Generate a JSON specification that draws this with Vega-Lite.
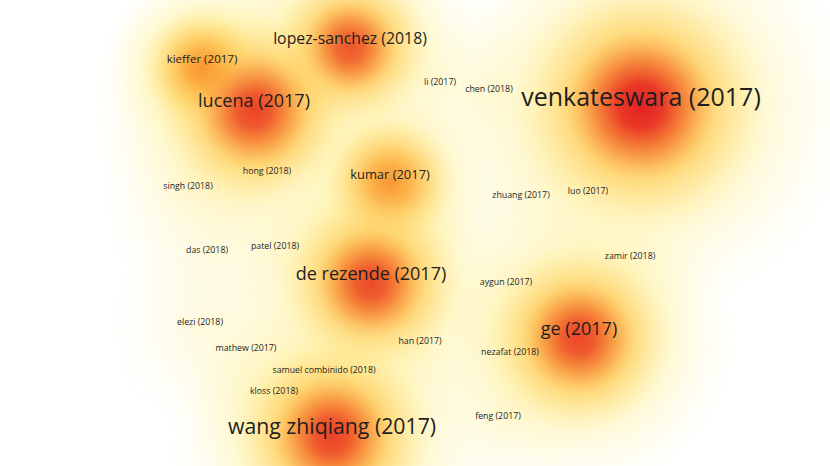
{
  "$schema": "https://vega.github.io/schema/vega-lite/v6.json",
  "autosize": {"type": "none"},
  "width": 830,
  "height": 466,
  "padding": 0,
  "background": "white",
  "config": {"view": {"stroke": null}},
  "data": {"values": [
    {"label": "venkateswara (2017)", "x": 641, "y": 106, "weight": 100, "density": 100},
    {"label": "lopez-sanchez (2018)", "x": 350, "y": 47, "weight": 46, "density": 40},
    {"label": "lucena (2017)", "x": 254, "y": 110, "weight": 59, "density": 60},
    {"label": "kieffer (2017)", "x": 202, "y": 68, "weight": 21, "density": 22},
    {"label": "li (2017)", "x": 440, "y": 90, "weight": 4.7, "density": 5},
    {"label": "chen (2018)", "x": 489, "y": 97, "weight": 4.7, "density": 5},
    {"label": "kumar (2017)", "x": 390, "y": 183, "weight": 29, "density": 28},
    {"label": "hong (2018)", "x": 267, "y": 179, "weight": 4.7, "density": 5},
    {"label": "singh (2018)", "x": 188, "y": 194, "weight": 4.7, "density": 5},
    {"label": "zhuang (2017)", "x": 521, "y": 203, "weight": 4.7, "density": 5},
    {"label": "luo (2017)", "x": 588, "y": 199, "weight": 4.7, "density": 5},
    {"label": "das (2018)", "x": 207, "y": 258, "weight": 4.7, "density": 5},
    {"label": "patel (2018)", "x": 275, "y": 254, "weight": 4.7, "density": 5},
    {"label": "zamir (2018)", "x": 630, "y": 264, "weight": 4.7, "density": 5},
    {"label": "de rezende (2017)", "x": 371, "y": 283, "weight": 59, "density": 53},
    {"label": "aygun (2017)", "x": 506, "y": 290, "weight": 4.7, "density": 5},
    {"label": "ge (2017)", "x": 579, "y": 338, "weight": 59, "density": 56},
    {"label": "elezi (2018)", "x": 200, "y": 330, "weight": 4.7, "density": 5},
    {"label": "han (2017)", "x": 420, "y": 349, "weight": 4.7, "density": 5},
    {"label": "mathew (2017)", "x": 246, "y": 356, "weight": 4.7, "density": 5},
    {"label": "nezafat (2018)", "x": 510, "y": 360, "weight": 4.7, "density": 5},
    {"label": "samuel combinido (2018)", "x": 324, "y": 378, "weight": 4.7, "density": 5},
    {"label": "kloss (2018)", "x": 274, "y": 399, "weight": 4.7, "density": 5},
    {"label": "feng (2017)", "x": 498, "y": 424, "weight": 4.7, "density": 5},
    {"label": "wang zhiqiang (2017)", "x": 332, "y": 436, "weight": 78, "density": 62}
  ]},
  "encoding": {
    "x": {"field": "x", "type": "quantitative", "scale": {"domain": [0, 830]}, "axis": null},
    "y": {"field": "y", "type": "quantitative", "scale": {"domain": [0, 466], "reverse": true}, "axis": null}
  },
  "resolve": {"scale": {"size": "independent", "opacity": "independent"}, "legend": {"size": "independent", "opacity": "independent"}},
  "layer": [
    {
      "transform": [{"filter": "datum.density < 15"}],
      "mark": {"type": "circle", "opacity": 1, "strokeWidth": 0, "clip": true, "size": 36000,
        "fill": {"gradient": "radial", "x1": 0.5, "y1": 0.5, "r1": 0, "x2": 0.5, "y2": 0.5, "r2": 0.5,
          "stops": [
            {"offset": 0, "color": "rgba(255,240,160,0.28)"},
            {"offset": 0.5, "color": "rgba(255,245,185,0.15)"},
            {"offset": 1, "color": "rgba(255,250,215,0)"}
          ]}},
      "encoding": {}
    },
    {
      "transform": [{"filter": "datum.density >= 15"}],
      "mark": {"type": "circle", "opacity": 1, "strokeWidth": 0, "clip": true,
        "fill": {"gradient": "radial", "x1": 0.5, "y1": 0.5, "r1": 0, "x2": 0.5, "y2": 0.5, "r2": 0.5,
          "stops": [
            {"offset": 0, "color": "rgba(255,225,110,0.95)"},
            {"offset": 0.3, "color": "rgba(255,233,135,0.8)"},
            {"offset": 0.55, "color": "rgba(255,242,170,0.55)"},
            {"offset": 0.8, "color": "rgba(255,248,200,0.25)"},
            {"offset": 1, "color": "rgba(255,252,225,0)"}
          ]}},
      "encoding": {"size": {"field": "density", "type": "quantitative", "scale": {"domain": [0, 100], "range": [0, 180000]}, "legend": null}}
    },
    {
      "transform": [{"filter": "datum.density >= 15"}],
      "mark": {"type": "circle", "opacity": 1, "strokeWidth": 0, "clip": true,
        "fill": {"gradient": "radial", "x1": 0.5, "y1": 0.5, "r1": 0, "x2": 0.5, "y2": 0.5, "r2": 0.5,
          "stops": [
            {"offset": 0, "color": "rgba(249,145,45,0.95)"},
            {"offset": 0.3, "color": "rgba(251,165,55,0.8)"},
            {"offset": 0.6, "color": "rgba(254,195,80,0.45)"},
            {"offset": 0.85, "color": "rgba(255,215,110,0.15)"},
            {"offset": 1, "color": "rgba(255,225,120,0)"}
          ]}},
      "encoding": {"size": {"field": "density", "type": "quantitative", "scale": {"domain": [0, 100], "range": [0, 64000]}, "legend": null}}
    },
    {
      "transform": [{"filter": "datum.density >= 40"}],
      "mark": {"type": "circle", "strokeWidth": 0, "clip": true,
        "fill": {"gradient": "radial", "x1": 0.5, "y1": 0.5, "r1": 0, "x2": 0.5, "y2": 0.5, "r2": 0.5,
          "stops": [
            {"offset": 0, "color": "rgba(228,32,36,1)"},
            {"offset": 0.3, "color": "rgba(232,45,36,0.9)"},
            {"offset": 0.6, "color": "rgba(240,85,40,0.5)"},
            {"offset": 0.85, "color": "rgba(246,120,45,0.15)"},
            {"offset": 1, "color": "rgba(248,130,45,0)"}
          ]}},
      "encoding": {
        "size": {"field": "density", "type": "quantitative", "scale": {"domain": [0, 100], "range": [0, 22000]}, "legend": null},
        "opacity": {"field": "density", "type": "quantitative", "scale": {"domain": [40, 100], "range": [0.55, 1]}, "legend": null}
      }
    },
    {
      "mark": {"type": "text", "font": "Open Sans", "color": "#1e1e1e", "align": "center", "baseline": "middle", "dy": -8},
      "encoding": {
        "text": {"field": "label", "type": "nominal"},
        "size": {"field": "weight", "type": "quantitative", "scale": {"domain": [0, 100], "range": [8, 25]}, "legend": null}
      }
    }
  ]
}
